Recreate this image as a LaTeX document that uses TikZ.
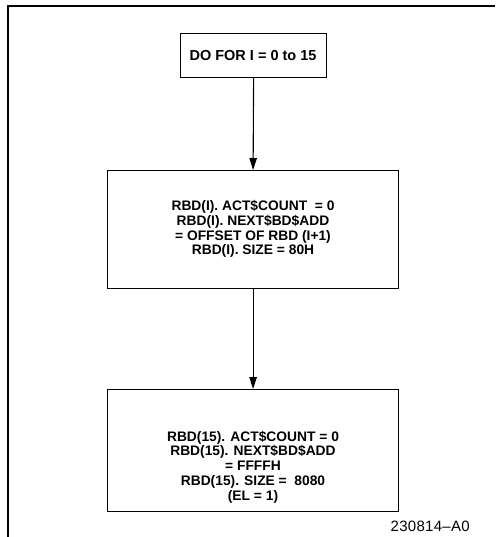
\documentclass[tikz,border=0pt]{standalone}
\usepackage{fontspec}
\setmainfont{Liberation Sans}
\newfontfamily\boxfont[WordSpace=0.75]{Liberation Sans Bold}
\newfontfamily\topfont[WordSpace=1.0]{Liberation Sans Bold}
\newfontfamily\lblfont[LetterSpace=2]{Liberation Sans}
\usetikzlibrary{arrows.meta}
\begin{document}
\begin{tikzpicture}[x=1pt,y=-1pt,
  blk/.style={draw,line width=1.2pt,inner sep=0pt,anchor=north west},
  txt/.style={font=\boxfont\fontsize{13.8}{14.8}\selectfont,align=center},
  arr/.style={line width=1.1pt,-{Triangle[length=12pt,width=7.5pt]}}]
\useasboundingbox (0,0) rectangle (495,537);
\draw[line width=1.2pt] (8,537) -- (8,6) -- (495,6);
\node[blk,minimum width=146pt,minimum height=44pt] (b1) at (180,33) {};
\node[align=center,font=\topfont\fontsize{14.5}{15}\selectfont] (t1) at (253,56) {DO FOR I = 0 to 15};
\node[blk,minimum width=291pt,minimum height=118pt] (b2) at (107,170) {};
\node[txt] (t2) at (253,229) {RBD(I). ACT\$COUNT \ = 0\\RBD(I). NEXT\$BD\$ADD\\= OFFSET OF RBD (I+1)\\RBD(I). SIZE = 80H};
\node[blk,minimum width=291pt,minimum height=122pt] (b3) at (107,389) {};
\node[txt] (t3) at (253,467) {RBD(15). ACT\$COUNT = 0\\RBD(15). NEXT\$BD\$ADD\\= FFFFH\\RBD(15). SIZE = \ 8080\\(EL = 1)};
\draw[arr] (b1.south) -- (b2.north);
\draw[arr] (b2.south) -- (b3.north);
\node[font=\lblfont\fontsize{15}{16}\selectfont,anchor=east,inner sep=0pt] (lbl) at (470,526) {230814\textendash A0};
\end{tikzpicture}
\end{document}
